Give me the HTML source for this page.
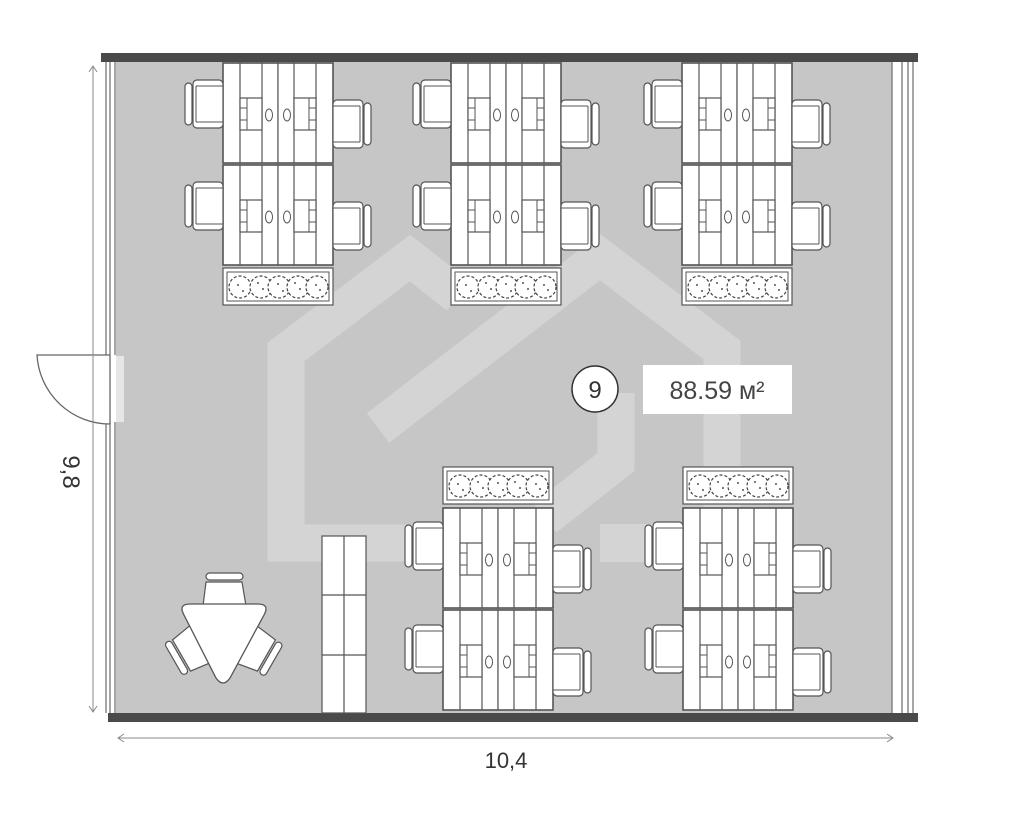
<!DOCTYPE html>
<html><head><meta charset="utf-8"><style>
html,body{margin:0;padding:0;background:#fff;}
svg{display:block;}
</style></head><body>
<svg width="1009" height="814" viewBox="0 0 1009 814" xmlns="http://www.w3.org/2000/svg">
<defs>
  <g id="cell">
    <rect x="0" y="0" width="55" height="100" fill="#fff" stroke="#555" stroke-width="1.2"/>
    <line x1="17" y1="0" x2="17" y2="100" stroke="#555" stroke-width="1.2"/>
    <line x1="39" y1="0" x2="39" y2="100" stroke="#555" stroke-width="1.2"/>
    <rect x="17" y="35" width="22" height="32" fill="#fff" stroke="#555" stroke-width="1.2"/>
    <line x1="17" y1="45" x2="24" y2="45" stroke="#555"/>
    <line x1="17" y1="57" x2="24" y2="57" stroke="#555"/>
    <line x1="24" y1="35" x2="24" y2="67" stroke="#555"/>
    <ellipse cx="46" cy="52" rx="3.5" ry="6" fill="#fff" stroke="#555"/>
  </g>
  <g id="row">
    <use href="#cell"/>
    <use href="#cell" transform="translate(110,0) scale(-1,1)"/>
    <rect x="0" y="0" width="110" height="100" fill="none" stroke="#555" stroke-width="1.5"/>
  </g>
  <g id="chairL">
    <rect x="1" y="3" width="7" height="42" rx="3.5" fill="#fff" stroke="#555" stroke-width="1.2"/>
    <rect x="9" y="0" width="30" height="48" rx="4" fill="#fff" stroke="#555" stroke-width="1.2"/>
    <line x1="12" y1="6" x2="39" y2="6" stroke="#555"/>
    <line x1="12" y1="42" x2="39" y2="42" stroke="#555"/>
    <line x1="12" y1="6" x2="12" y2="42" stroke="#555"/>
  </g>
  <g id="chairR"><use href="#chairL" transform="translate(39,0) scale(-1,1)"/></g>
  <g id="planter">
    <rect x="0" y="0" width="110" height="37" fill="#fff" stroke="#555" stroke-width="1.2"/>
    <rect x="4" y="4" width="102" height="29" fill="#fff" stroke="#555" stroke-width="1"/>
    <g fill="#fff" stroke="#444" stroke-width="1.2" stroke-dasharray="3 2">
      <circle cx="17" cy="19" r="11"/><circle cx="38" cy="19" r="11"/><circle cx="56" cy="19" r="11"/><circle cx="75" cy="19" r="11"/><circle cx="94" cy="19" r="11"/>
    </g>
    <g fill="#555"><circle cx="15" cy="17" r="1"/><circle cx="40" cy="21" r="1"/><circle cx="55" cy="16" r="1"/><circle cx="77" cy="21" r="1"/><circle cx="93" cy="17" r="1"/><circle cx="20" cy="23" r="1"/><circle cx="60" cy="23" r="1"/><circle cx="35" cy="15" r="1"/><circle cx="72" cy="15" r="1"/><circle cx="97" cy="22" r="1"/></g>
  </g>
  <g id="topc">
    <use href="#row" y="63"/><use href="#row" y="165"/>
    <use href="#chairL" x="-39" y="80"/><use href="#chairL" x="-39" y="182"/>
    <use href="#chairR" x="110" y="100"/><use href="#chairR" x="110" y="202"/>
    <use href="#planter" y="268"/>
  </g>
  <g id="botc">
    <use href="#planter" y="467"/>
    <use href="#row" y="508"/><use href="#row" y="610"/>
    <use href="#chairL" x="-39" y="522"/><use href="#chairL" x="-39" y="625"/>
    <use href="#chairR" x="110" y="545"/><use href="#chairR" x="110" y="648"/>
  </g>
  <g id="rchair">
    <rect x="206" y="573" width="37" height="7" rx="3.5" fill="#fff" stroke="#555" stroke-width="1.2"/>
    <path d="M206 582 L242 582 L246 606 L203 606 Z" fill="#fff" stroke="#555" stroke-width="1.2"/>
  </g>
</defs>

<rect x="116" y="62" width="776" height="652" fill="#c6c6c6"/>
<g fill="none" stroke="#d4d4d4" stroke-width="37" stroke-linejoin="miter">
  <path d="M458 296 L410 258 L286 352 L286 543 L440 543"/>
  <path d="M378 428 L600 257 L722 350 L722 560"/>
  <path d="M545 518 L616 462 L616 393"/>
</g>
<rect x="600" y="524" width="140" height="38" fill="#d4d4d4"/>

<rect x="101" y="53" width="817" height="9" fill="#4a4a4a"/>
<rect x="108" y="713" width="810" height="9" fill="#4a4a4a"/>
<g stroke="#777" stroke-width="1.3">
  <line x1="106" y1="62" x2="106" y2="355"/><line x1="110" y1="62" x2="110" y2="355"/><line x1="115" y1="62" x2="115" y2="355"/>
  <line x1="106" y1="422" x2="106" y2="713"/><line x1="110" y1="422" x2="110" y2="713"/><line x1="115" y1="422" x2="115" y2="713"/>
  <line x1="892" y1="62" x2="892" y2="713"/><line x1="902" y1="62" x2="902" y2="713"/><line x1="908" y1="62" x2="908" y2="713"/><line x1="913" y1="62" x2="913" y2="713"/>
</g>
<rect x="116" y="356" width="8" height="66" fill="#e6e6e6"/>
<path d="M110 355 L37 355 A73 73 0 0 0 110 424" fill="#fff" stroke="#666" stroke-width="1.3"/>
<line x1="110" y1="355" x2="110" y2="424" stroke="#666" stroke-width="1.3"/>

<use href="#topc" x="223"/>
<use href="#topc" x="451"/>
<use href="#topc" x="682"/>
<use href="#botc" x="443"/>
<use href="#botc" x="683"/>

<g fill="#fff" stroke="#555" stroke-width="1.2">
  <rect x="322" y="536" width="44" height="177"/>
  <line x1="344" y1="536" x2="344" y2="713"/>
  <line x1="322" y1="595" x2="366" y2="595"/>
  <line x1="322" y1="655" x2="366" y2="655"/>
</g>

<use href="#rchair"/>
<use href="#rchair" transform="rotate(120 224 631)"/>
<use href="#rchair" transform="rotate(240 224 631)"/>
<path d="M190 604 L258 604 Q270 604 264 615 L230 678 Q223 688 216 678 L184 615 Q178 604 190 604 Z" fill="#fff" stroke="#555" stroke-width="1.3"/>

<circle cx="595" cy="389" r="23" fill="#fff" stroke="#333" stroke-width="1.5"/>
<text x="595" y="398" font-family="Liberation Sans, sans-serif" font-size="24" fill="#333" text-anchor="middle">9</text>
<rect x="643" y="365" width="149" height="49" fill="#fff"/>
<text x="717" y="399" font-family="Liberation Sans, sans-serif" font-size="25" fill="#444" text-anchor="middle">88.59 м²</text>

<g stroke="#888" stroke-width="1" fill="none">
  <line x1="118" y1="738" x2="893" y2="738"/>
  <path d="M124 734 L118 738 L124 742"/><path d="M887 734 L893 738 L887 742"/>
  <line x1="93" y1="66" x2="93" y2="712"/>
  <path d="M89 72 L93 66 L97 72"/><path d="M89 706 L93 712 L97 706"/>
</g>
<rect x="55" y="450" width="32" height="46" fill="#fff"/>
<text x="506" y="768" font-family="Liberation Sans, sans-serif" font-size="22" fill="#333" text-anchor="middle">10,4</text>
<text transform="translate(63,472) rotate(90)" font-family="Liberation Sans, sans-serif" font-size="24" fill="#333" text-anchor="middle">9,8</text>
</svg>
</body></html>
